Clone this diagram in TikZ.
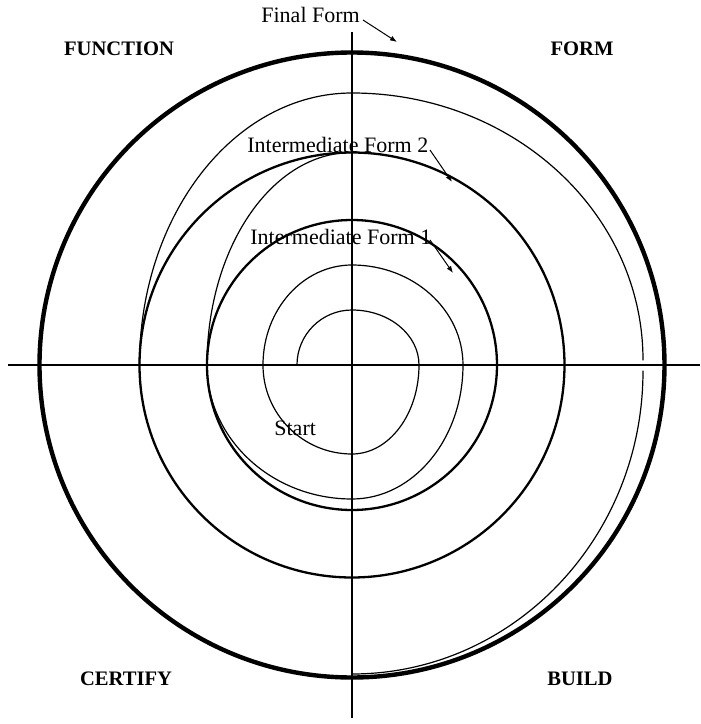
\documentclass[tikz,border=0pt]{standalone}
\usepackage{fontspec}
\setmainfont{Liberation Serif}
\usetikzlibrary{arrows.meta}
\tikzset{
  axisline/.style={line width=0.6pt},
  thinpath/.style={line width=0.6pt, line cap=round},
  formcircle/.style={line width=1.15pt},
  finalcircle/.style={line width=2.2pt},
  lbl/.style={inner sep=0pt, anchor=base west, font=\fontsize{11}{13}\selectfont},
  quad/.style={inner sep=0pt, anchor=base, font=\fontsize{10.3}{12}\selectfont\bfseries},
  pointer/.style={line width=0.5pt, -{Latex[length=3.5pt,width=2.6pt]}}
}
\begin{document}
\begin{tikzpicture}[x=0.5pt,y=0.5pt]
\useasboundingbox (-352,-359) rectangle (349,365);
% axes
\coordinate (hl) at (-344,0); \coordinate (hr) at (348,0);
\coordinate (vt) at (0,333);  \coordinate (vb) at (0,-353);
\draw[axisline] (hl) -- (hr);
\draw[axisline] (vt) -- (vb);
% circles
\coordinate (c) at (0,0);
\draw[formcircle] (c) circle[radius=145];
\draw[formcircle] (c) circle[radius=212.5];
\draw[finalcircle] (c) circle[radius=312.5];
% spiral
\draw[thinpath] (-55,0)
  arc[start angle=180, end angle=90, x radius=55, y radius=55]
  arc[start angle=90, end angle=0, x radius=67, y radius=55]
  arc[start angle=0, end angle=-90, x radius=67, y radius=89]
  arc[start angle=-90, end angle=-180, x radius=89, y radius=89]
  arc[start angle=180, end angle=90, x radius=89, y radius=100]
  arc[start angle=90, end angle=0, x radius=111, y radius=100]
  arc[start angle=0, end angle=-90, x radius=111, y radius=134]
  arc[start angle=-90, end angle=-180, x radius=145, y radius=134]
  arc[start angle=180, end angle=90, x radius=145, y radius=212.5];
\draw[thinpath] (-212.5,0)
  arc[start angle=180, end angle=90, x radius=212.5, y radius=272]
  arc[start angle=90, end angle=0, x radius=291, y radius=267];
\draw[thinpath] (291,-6)
  arc[start angle=0, end angle=-90, x radius=291, y radius=303];
% labels
\node[lbl] (ff) at (-91,342.3) {Final Form};
\node[lbl] (if2) at (-105,213) {Intermediate Form 2};
\node[lbl] (if1) at (-102,120) {Intermediate Form 1};
\node[lbl] (st) at (-78,-70) {Start};
\node[quad] (fn) at (-233,309) {FUNCTION};
\node[quad] (fo) at (230,309) {FORM};
\node[quad] (ce) at (-226,-320.7) {CERTIFY};
\node[quad] (bu) at (228,-320) {BUILD};
% pointers
\coordinate (ffa) at (11,345);  \coordinate (ffb) at (45,323);
\coordinate (i2a) at (78,215);  \coordinate (i2b) at (100,183);
\coordinate (i1a) at (78,125);  \coordinate (i1b) at (101,92);
\draw[pointer] (ffa) -- (ffb);
\draw[pointer] (i2a) -- (i2b);
\draw[pointer] (i1a) -- (i1b);
\end{tikzpicture}
\end{document}
